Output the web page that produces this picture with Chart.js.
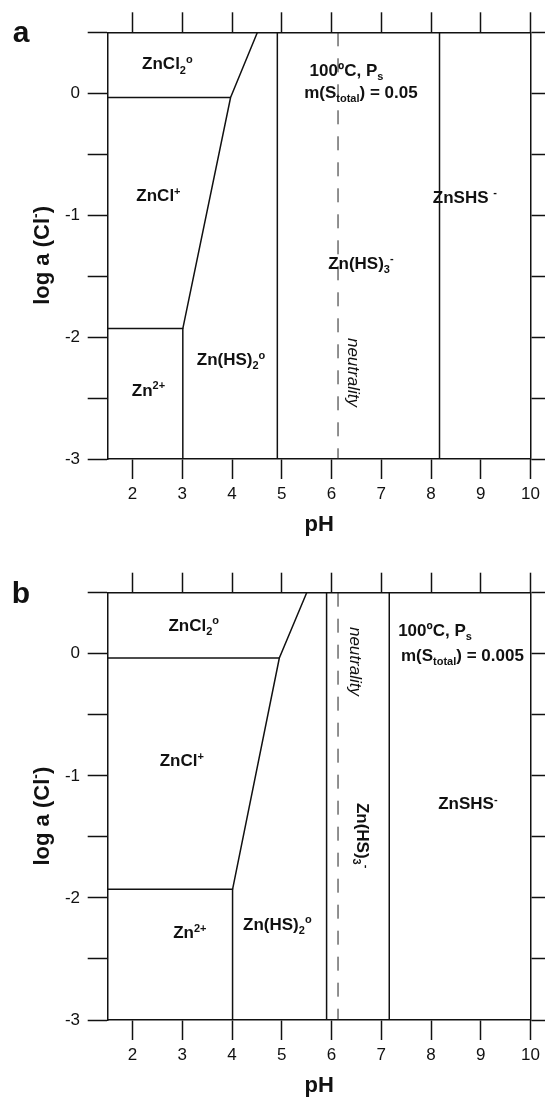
<!DOCTYPE html>
<html>
<head>
<meta charset="utf-8">
<script src="https://cdn.jsdelivr.net/npm/chart.js@4.4.0/dist/chart.umd.min.js"></script>
<style>
    body { margin: 0; background: #fff; }
    .panel { width: 545px; height: 550px; }
</style>
</head>
<body>
<div class="panel"><canvas id="chartA" width="545" height="550"></canvas></div>
<div class="panel"><canvas id="chartB" width="545" height="550"></canvas></div>
<script>
// Axis ranges and ticks
const phMin = 1.5, phMax = 10;
const logClMin = -3, logClMax = 0.5;
const phTicks = [2, 3, 4, 5, 6, 7, 8, 9, 10];
const logClTicks = [-3, -2.5, -2, -1.5, -1, -0.5, 0, 0.5];
const neutralPH = 6.13;

// Panel a: m(S total) = 0.05
const aCl2PH = [1.5, 3.97];
const aCl2Log = [-0.035, -0.035];
const aSlopePH = [4.51, 3.97, 3.01];
const aSlopeLog = [0.5, -0.035, -1.93];
const aZnPH = [1.5, 3.01, 3.01];
const aZnLog = [-1.93, -1.93, -3];
const aHs2Hs3PH = 4.91;
const aHs3ShsPH = 8.17;

// Panel b: m(S total) = 0.005
const bCl2PH = [1.5, 4.95];
const bCl2Log = [-0.035, -0.035];
const bSlopePH = [5.50, 4.95, 4.01];
const bSlopeLog = [0.5, -0.035, -1.93];
const bZnPH = [1.5, 4.01, 4.01];
const bZnLog = [-1.93, -1.93, -3];
const bHs2Hs3PH = 5.90;
const bHs3ShsPH = 7.16;

const FONT = '"Liberation Sans", Arial, Helvetica, sans-serif';
const INK = '#111';

// Field labels, placed in (pH, log a) units
const aLabels = [
    { x: 2.70, y: 0.246, parts: [['ZnCl', ''], ['2', 'sub'], ['o', 'sup']] },
    { x: 6.30, y: 0.19, parts: [['100ºC, P', ''], ['s', 'sub']] },
    { x: 6.59, y: 0.013, parts: [['m(S', ''], ['total', 'sub'], [') = 0.05', '']] },
    { x: 2.52, y: -0.834, parts: [['ZnCl', ''], ['+', 'sup']] },
    { x: 8.68, y: -0.848, parts: [['ZnSHS ', ''], ['-', 'sup']] },
    { x: 6.59, y: -1.39, parts: [['Zn(HS)', ''], ['3', 'sub'], ['-', 'sup']] },
    { x: 3.98, y: -2.18, parts: [['Zn(HS)', ''], ['2', 'sub'], ['o', 'sup']] },
    { x: 2.32, y: -2.43, parts: [['Zn', ''], ['2+', 'sup']] },
    { x: 6.45, y: -2.29, parts: [['neutrality', '']], style: 'italic', rot: Math.PI / 2 }
];

const bLabels = [
    { x: 3.23, y: 0.238, parts: [['ZnCl', ''], ['2', 'sub'], ['o', 'sup']] },
    { x: 6.49, y: -0.063, parts: [['neutrality', '']], style: 'italic', rot: Math.PI / 2 },
    { x: 8.08, y: 0.197, parts: [['100ºC, P', ''], ['s', 'sub']] },
    { x: 8.63, y: -0.008, parts: [['m(S', ''], ['total', 'sub'], [') = 0.005', '']] },
    { x: 2.99, y: -0.87, parts: [['ZnCl', ''], ['+', 'sup']] },
    { x: 8.74, y: -1.225, parts: [['ZnSHS', ''], ['-', 'sup']] },
    { x: 6.63, y: -1.49, parts: [['Zn(HS)', ''], ['3', 'sub'], ['-', 'sup']], rot: Math.PI / 2 },
    { x: 3.15, y: -2.28, parts: [['Zn', ''], ['2+', 'sup']] },
    { x: 4.91, y: -2.21, parts: [['Zn(HS)', ''], ['2', 'sub'], ['o', 'sup']] }
];

function pts(xs, ys) {
    return xs.map((x, i) => ({ x: x, y: ys[i] }));
}

function vline(x) {
    return [{ x: x, y: logClMax }, { x: x, y: logClMin }];
}

function boundary(data) {
    return { data: data, showLine: true, borderColor: INK, borderWidth: 1.5, pointRadius: 0, fill: false };
}

function neutralLine() {
    return { data: vline(neutralPH), showLine: true, borderColor: '#222', borderWidth: 1,
             borderDash: [14, 12], pointRadius: 0, fill: false };
}

// draw text with sub/superscript pieces, centred on (cx, cy)
function drawRich(ctx, parts, cx, cy, size, style, rot) {
    const small = Math.round(size * 0.62);
    const fontOf = mode => `${style} ${mode ? small : size}px ${FONT}`;
    const widths = parts.map(p => { ctx.font = fontOf(p[1]); return ctx.measureText(p[0]).width; });
    const total = widths.reduce((a, b) => a + b, 0);
    ctx.save();
    ctx.translate(cx, cy);
    ctx.rotate(rot || 0);
    ctx.fillStyle = INK;
    ctx.textAlign = 'left';
    ctx.textBaseline = 'alphabetic';
    let x = -total / 2;
    const base = size * 0.36;
    parts.forEach((p, i) => {
        ctx.font = fontOf(p[1]);
        const dy = p[1] === 'sub' ? size * 0.25 : p[1] === 'sup' ? -size * 0.38 : 0;
        ctx.fillText(p[0], x, base + dy);
        x += widths[i];
    });
    ctx.restore();
}

function labelPlugin(labels, letter) {
    return {
        id: 'fieldLabels',
        afterDraw(chart) {
            const ctx = chart.ctx;
            const xs = chart.scales.x, ys = chart.scales.y;
            labels.forEach(l => {
                drawRich(ctx, l.parts, xs.getPixelForValue(l.x), ys.getPixelForValue(l.y),
                         17, l.style || 'bold', l.rot);
            });
            // y axis title
            drawRich(ctx, [['log a (Cl', ''], ['-', 'sup'], [')', '']],
                     ys.left + 40.7, ys.getPixelForValue(-1.33), 22, 'bold', -Math.PI / 2);
            // panel letter
            ctx.save();
            ctx.font = `bold 30px ${FONT}`;
            ctx.fillStyle = INK;
            ctx.textAlign = 'center';
            ctx.textBaseline = 'alphabetic';
            ctx.fillText(letter, 21, chart.chartArea.top + 10);
            ctx.restore();
        }
    };
}

const gridOpts = { drawOnChartArea: false, drawTicks: true, tickLength: 20, tickWidth: 1.5, tickColor: INK };
const borderOpts = { display: true, color: INK, width: 1.5 };

function buildChart(id, lines, labels, letter, topH, bottomH, titlePad) {
    return new Chart(document.getElementById(id), {
        type: 'scatter',
        data: { datasets: lines },
        options: {
            responsive: false,
            animation: false,
            events: [],
            layout: { padding: 0 },
            plugins: { legend: { display: false }, tooltip: { enabled: false } },
            scales: {
                x: {
                    type: 'linear', position: 'bottom', min: phMin, max: phMax,
                    grid: gridOpts, border: borderOpts,
                    afterBuildTicks: s => { s.ticks = phTicks.map(v => ({ value: v })); },
                    afterFit: s => { s.height = bottomH; },
                    ticks: { color: INK, font: { family: FONT, size: 17 }, padding: 5, maxRotation: 0, autoSkip: false },
                    title: { display: true, text: 'pH', color: INK,
                             font: { family: FONT, size: 22, weight: 'bold' },
                             padding: { top: 0, bottom: titlePad } }
                },
                x2: {
                    type: 'linear', position: 'top', min: phMin, max: phMax,
                    grid: gridOpts, border: borderOpts,
                    afterBuildTicks: s => { s.ticks = phTicks.map(v => ({ value: v })); },
                    afterFit: s => { s.height = topH; },
                    ticks: { callback: () => '' }
                },
                y: {
                    type: 'linear', position: 'left', min: logClMin, max: logClMax,
                    grid: gridOpts, border: borderOpts,
                    afterBuildTicks: s => { s.ticks = logClTicks.map(v => ({ value: v })); },
                    afterFit: s => { s.width = 107.7; },
                    ticks: { color: INK, font: { family: FONT, size: 17 }, padding: 7.7,
                             callback: v => Number.isInteger(v) ? String(v) : '' }
                },
                y2: {
                    type: 'linear', position: 'right', min: logClMin, max: logClMax,
                    grid: gridOpts, border: borderOpts,
                    afterBuildTicks: s => { s.ticks = logClTicks.map(v => ({ value: v })); },
                    afterFit: s => { s.width = 10.5; },
                    ticks: { callback: () => '' }
                }
            }
        },
        plugins: [labelPlugin(labels, letter)]
    });
}

buildChart('chartA', [
    boundary(pts(aCl2PH, aCl2Log)),
    boundary(pts(aSlopePH, aSlopeLog)),
    boundary(pts(aZnPH, aZnLog)),
    boundary(vline(aHs2Hs3PH)),
    boundary(vline(aHs3ShsPH)),
    neutralLine()
], aLabels, 'a', 32.3, 91, 11.8);

buildChart('chartB', [
    boundary(pts(bCl2PH, bCl2Log)),
    boundary(pts(bSlopePH, bSlopeLog)),
    boundary(pts(bZnPH, bZnLog)),
    boundary(vline(bHs2Hs3PH)),
    boundary(vline(bHs3ShsPH)),
    neutralLine()
], bLabels, 'b', 42.7, 80, 0.8);
</script>
</body>
</html>
